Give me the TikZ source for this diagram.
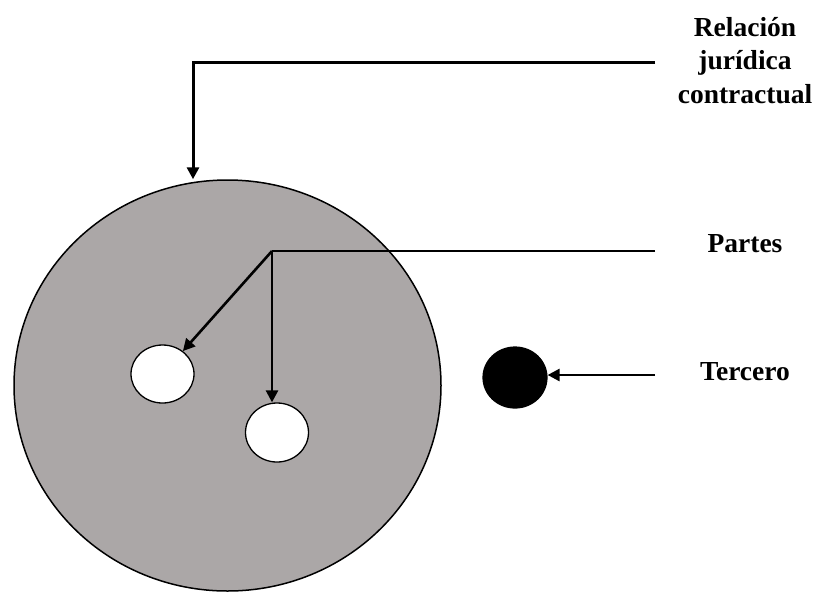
\documentclass[tikz,border=0pt]{standalone}
\usepackage{fontspec}
\setmainfont{Liberation Serif}
\usetikzlibrary{shapes.geometric,arrows.meta}
\definecolor{discgray}{RGB}{171,167,167}
\tikzset{
  disc/.style={ellipse,draw=black,inner sep=0pt},
  lbl/.style={font=\bfseries\fontsize{27.5}{33.5}\selectfont,inner sep=0pt,align=center},
  conn/.style={draw=black,line width=2.6pt},
  arr/.style={conn,-{Triangle[length=12pt,width=12pt]}},
}
\begin{document}
\begin{tikzpicture}[x=1pt,y=-1pt]
\useasboundingbox (0,0) rectangle (821,592);
% shapes
\node[disc,fill=discgray,line width=1.5pt,minimum width=427pt,minimum height=411pt] (big) at (227.5,385.5) {};
\node[disc,fill=white,line width=1.3pt,minimum width=63pt,minimum height=58pt] (s1) at (162.5,374) {};
\node[disc,fill=white,line width=1.3pt,minimum width=63pt,minimum height=59pt] (s2) at (277,432.5) {};
\node[disc,fill=black,line width=1.2pt,minimum width=64pt,minimum height=61pt] (ter) at (515,377.5) {};
% labels
\node[lbl,anchor=north] (rel) at (745,17) {Relación\\jurídica\\contractual};
\node[lbl,anchor=base] (par) at (745,252) {Partes};
\node[lbl,anchor=base] (tlab) at (745,380) {Tercero};
% connectors
\coordinate (r0) at (655,62);
\coordinate (r1) at (193,62);
\draw[arr,line width=3pt] (r0) -- (r1) -- (r1 |- big.north);
\coordinate (p0) at (655,251);
\coordinate (p1) at (272,251);
\draw[conn] (p0) -- (p1);
\draw[arr] (p1) -- (s1);
\draw[arr] (p1) -- (p1 |- s2.north);
\coordinate (t0) at (655,375);
\draw[arr] (t0) -- (t0 -| ter.east);
\end{tikzpicture}
\end{document}
